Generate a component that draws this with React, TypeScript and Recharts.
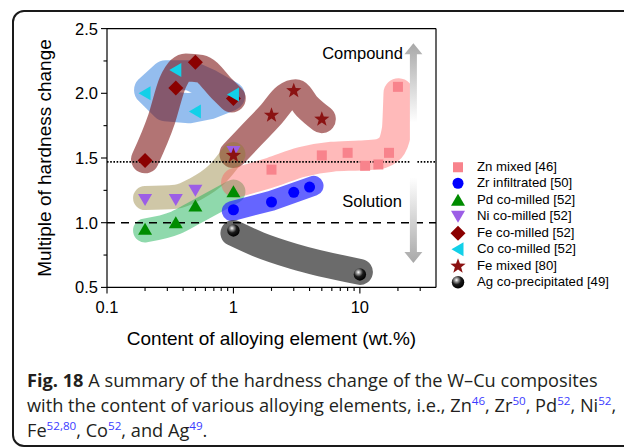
import React from 'react';
import { ComposedChart, Scatter, Line, XAxis, YAxis, ReferenceLine, Legend } from 'recharts';

// ---------------- data ----------------
const ZN_X = [2, 5, 8, 11, 14, 17, 20];
const ZN_Y = [1.41, 1.52, 1.54, 1.44, 1.45, 1.54, 2.05];
const ZR_X = [1, 2, 3, 4];
const ZR_Y = [1.1, 1.16, 1.235, 1.275];
const PD_X = [0.2, 0.35, 0.5, 1];
const PD_Y = [0.95, 1.0, 1.13, 1.24];
const NI_X = [0.2, 0.35, 0.5, 1];
const NI_Y = [1.18, 1.18, 1.25, 1.55];
const FEC_X = [0.2, 0.35, 0.5, 1];
const FEC_Y = [1.48, 2.04, 2.24, 1.96];
const CO_X = [0.2, 0.35, 0.5, 1];
const CO_Y = [2.0, 2.18, 1.86, 1.99];
const FEM_X = [1, 2, 3, 5];
const FEM_Y = [1.52, 1.83, 2.02, 1.8];
const AG_X = [1, 10];
const AG_Y = [0.94, 0.6];

// shaded guide bands (centre lines)
const CO_BAND_X = [0.215, 0.29, 0.448, 0.645, 0.94, 0.645, 0.448, 0.29];
const CO_BAND_Y = [2.025, 2.14, 2.14, 2.07, 1.979, 1.915, 1.885, 1.9];
const FEC_BAND_X = [0.2, 0.27, 0.33, 0.42, 0.55, 0.82, 0.97];
const FEC_BAND_Y = [1.49, 1.8, 2.08, 2.2, 2.19, 2.03, 1.96];
const FEM_BAND_X = [1.0, 1.4, 2, 2.6, 3.1, 3.8, 5];
const FEM_BAND_Y = [1.53, 1.68, 1.84, 1.97, 2.0, 1.9, 1.8];
const NI_BAND_X = [0.2, 0.35, 0.5, 0.75, 1.0];
const NI_BAND_Y = [1.19, 1.2, 1.26, 1.38, 1.53];
const PD_BAND_X = [0.2, 0.35, 0.5, 1.0];
const PD_BAND_Y = [0.94, 1.0, 1.08, 1.24];
const ZN_BAND_X = [1.05, 2, 3.5, 6, 10, 14, 17.5, 19.6, 20.2];
const ZN_BAND_Y = [1.31, 1.39, 1.47, 1.51, 1.52, 1.53, 1.58, 1.72, 2.0];
const ZR_BAND_X = [0.97, 2, 4.3];
const ZR_BAND_Y = [1.09, 1.17, 1.285];
const AG_BAND_X = [1.0, 1.6, 3, 10];
const AG_BAND_Y = [0.92, 0.83, 0.74, 0.62];

const X_MAJOR = [0.1, 1, 10];
const X_MAJOR_LABELS = ['0.1', '1', '10'];
const X_MINOR = [0.2, 0.3, 0.4, 0.5, 0.6, 0.7, 0.8, 0.9, 2, 3, 4, 5, 6, 7, 8, 9, 20, 30];
const Y_MAJOR = [0.5, 1.0, 1.5, 2.0, 2.5];
const Y_MAJOR_LABELS = ['0.5', '1.0', '1.5', '2.0', '2.5'];
const Y_MINOR = [0.75, 1.25, 1.75, 2.25];

const SOLUTION_LEVEL = 1.0;
const COMPOUND_LEVEL = 1.47;
const ARROW_X = 26.5;
const ARROW_Y = [2.386, 0.689];

const LEGEND_NAMES = [
  'Zn mixed [46]',
  'Zr infiltrated [50]',
  'Pd co-milled [52]',
  'Ni co-milled [52]',
  'Fe co-milled [52]',
  'Co co-milled [52]',
  'Fe mixed [80]',
  'Ag co-precipitated [49]',
];

const pts = (xs: number[], ys: number[]) => xs.map((x, i) => ({ x, y: ys[i] }));

const SERIES = [
  { name: LEGEND_NAMES[0], data: pts(ZN_X, ZN_Y), kind: 'square', color: '#f8838c' },
  { name: LEGEND_NAMES[1], data: pts(ZR_X, ZR_Y), kind: 'circle', color: '#0000ff' },
  { name: LEGEND_NAMES[2], data: pts(PD_X, PD_Y), kind: 'up', color: '#008c00' },
  { name: LEGEND_NAMES[3], data: pts(NI_X, NI_Y), kind: 'down', color: '#9c5ee6' },
  { name: LEGEND_NAMES[4], data: pts(FEC_X, FEC_Y), kind: 'diamond', color: '#8b0000' },
  { name: LEGEND_NAMES[5], data: pts(CO_X, CO_Y), kind: 'left', color: '#12d0e8' },
  { name: LEGEND_NAMES[6], data: pts(FEM_X, FEM_Y), kind: 'star', color: '#8b1212' },
  { name: LEGEND_NAMES[7], data: pts(AG_X, AG_Y), kind: 'sphere', color: '#000000' },
];

const BANDS = [
  { id: 'co', data: pts(CO_BAND_X, CO_BAND_Y), color: '#3d86e0', opacity: 0.55, width: 30, type: 'linearClosed' },
  { id: 'fec', data: pts(FEC_BAND_X, FEC_BAND_Y), color: '#7a1010', opacity: 0.58, width: 28, type: 'monotone' },
  { id: 'fem', data: pts(FEM_BAND_X, FEM_BAND_Y), color: '#7a1010', opacity: 0.58, width: 28, type: 'monotone' },
  { id: 'ni', data: pts(NI_BAND_X, NI_BAND_Y), color: '#8c7a2e', opacity: 0.42, width: 24, type: 'monotone' },
  { id: 'pd', data: pts(PD_BAND_X, PD_BAND_Y), color: '#1fb35a', opacity: 0.5, width: 24, type: 'monotone' },
  { id: 'zn', data: pts(ZN_BAND_X, ZN_BAND_Y), color: '#ff5a5a', opacity: 0.42, width: 30, type: 'monotone' },
  { id: 'zr', data: pts(ZR_BAND_X, ZR_BAND_Y), color: '#2a2aff', opacity: 0.72, width: 20, type: 'linear' },
  { id: 'ag', data: pts(AG_BAND_X, AG_BAND_Y), color: '#3a3a3a', opacity: 0.75, width: 26, type: 'monotone' },
];

const FONT = "Arial, 'Liberation Sans', Helvetica, sans-serif";

// ---------------- markers ----------------
function Marker({ kind, color, cx, cy }: { kind: string; color: string; cx: number; cy: number }) {
  if (cx == null || cy == null) return null;
  switch (kind) {
    case 'square':
      return <rect x={cx - 5} y={cy - 5} width={10} height={10} fill={color} />;
    case 'circle':
      return <circle cx={cx} cy={cy} r={5.5} fill={color} />;
    case 'up':
      return <polygon points={`${cx},${cy - 6.5} ${cx + 7},${cy + 5.5} ${cx - 7},${cy + 5.5}`} fill={color} />;
    case 'down':
      return <polygon points={`${cx - 7},${cy - 5.5} ${cx + 7},${cy - 5.5} ${cx},${cy + 6.5}`} fill={color} />;
    case 'left':
      return <polygon points={`${cx - 6.5},${cy} ${cx + 5.5},${cy - 7} ${cx + 5.5},${cy + 7}`} fill={color} />;
    case 'diamond':
      return <polygon points={`${cx},${cy - 7.5} ${cx + 7.5},${cy} ${cx},${cy + 7.5} ${cx - 7.5},${cy}`} fill={color} />;
    case 'star': {
      const p: string[] = [];
      for (let i = 0; i < 10; i++) {
        const r = i % 2 === 0 ? 8 : 3.3;
        const a = -Math.PI / 2 + (i * Math.PI) / 5;
        p.push(`${cx + r * Math.cos(a)},${cy + r * Math.sin(a)}`);
      }
      return <polygon points={p.join(' ')} fill={color} />;
    }
    case 'sphere':
      return <circle cx={cx} cy={cy} r={6.2} fill="url(#agSphere)" />;
    default:
      return null;
  }
}

// ---------------- axes ticks ----------------
function XTick(props: any) {
  const { x, y, payload } = props;
  const idx = X_MAJOR.indexOf(payload.value);
  const major = idx >= 0;
  return (
    <g>
      <line x1={x} x2={x} y1={y} y2={y + (major ? 6 : 3.5)} stroke="#000" strokeWidth={1.1} />
      {major && (
        <text x={x} y={y + 26} textAnchor="middle" fontSize={16.5} fontFamily={FONT} fill="#000">
          {X_MAJOR_LABELS[idx]}
        </text>
      )}
    </g>
  );
}

function YTick(props: any) {
  const { x, y, payload } = props;
  const idx = Y_MAJOR.indexOf(payload.value);
  const major = idx >= 0;
  return (
    <g>
      <line x1={x} x2={x - (major ? 6 : 3.5)} y1={y} y2={y} stroke="#000" strokeWidth={1.1} />
      {major && (
        <text x={x - 9} y={y + 6} textAnchor="end" fontSize={16.5} fontFamily={FONT} fill="#000">
          {Y_MAJOR_LABELS[idx]}
        </text>
      )}
    </g>
  );
}

function XTitle(props: any) {
  const vb = props.viewBox || { x: 107, y: 287.4, width: 329, height: 30 };
  return (
    <text x={vb.x + vb.width / 2} y={vb.y + 57.4} textAnchor="middle" fontSize={19} fontFamily={FONT} fill="#000">
      Content of alloying element (wt.%)
    </text>
  );
}

function YTitle(props: any) {
  const vb = props.viewBox || { x: 47, y: 28.6, width: 60, height: 258.8 };
  const cx = vb.x - 3;
  const cy = vb.y + vb.height / 2;
  return (
    <text
      x={cx}
      y={cy}
      transform={`rotate(-90, ${cx}, ${cy})`}
      textAnchor="middle"
      dominantBaseline="central"
      fontSize={19}
      fontFamily={FONT}
      fill="#000"
    >
      Multiple of hardness change
    </text>
  );
}

function ArrowShape(props: any) {
  const { x1, y1, y2 } = props;
  const top = Math.min(y1, y2);
  const bot = Math.max(y1, y2);
  const hw = 9;
  const sw = 3.5;
  const hh = 11;
  const d = `M${x1},${top} L${x1 + hw},${top + hh} L${x1 + sw},${top + hh} L${x1 + sw},${bot - hh} L${x1 + hw},${bot - hh} L${x1},${bot} L${x1 - hw},${bot - hh} L${x1 - sw},${bot - hh} L${x1 - sw},${top + hh} L${x1 - hw},${top + hh} Z`;
  return (
    <g>
      <path d={d} fill="url(#arrowGrad)" />
      <text x={x1 - 10.5} y={top + 16} textAnchor="end" fontSize={16.5} fontFamily={FONT} fill="#000">
        Compound
      </text>
      <text x={x1 - 11.5} y={top + 164} textAnchor="end" fontSize={16.5} fontFamily={FONT} fill="#000">
        Solution
      </text>
    </g>
  );
}

function LegendContent() {
  return (
    <div style={{ fontFamily: FONT, fontSize: 13.2, color: '#000' }}>
      {SERIES.map((s) => (
        <div key={s.name} style={{ display: 'flex', alignItems: 'center', height: 16.5, whiteSpace: 'nowrap' }}>
          <svg width={16} height={16.5} style={{ display: 'block', flex: 'none' }}>
            <Marker kind={s.kind} color={s.color} cx={8} cy={8.25} />
          </svg>
          <span style={{ marginLeft: 11, lineHeight: '16.5px' }}>{s.name}</span>
        </div>
      ))}
    </div>
  );
}

const supStyle: React.CSSProperties = {
  color: '#3b3bff',
  fontSize: '0.64em',
  position: 'relative',
  top: '-0.6em',
  lineHeight: 0,
};

export default function App() {
  return (
    <div style={{ position: 'absolute', left: 0, top: 0, width: 624, height: 448, overflow: 'hidden', background: '#fff' }}>
      <svg width={0} height={0} style={{ position: 'absolute' }}>
        <defs>
          <radialGradient id="agSphere" cx="38%" cy="32%" r="68%">
            <stop offset="0" stopColor="#ffffff" />
            <stop offset="0.22" stopColor="#9a9a9a" />
            <stop offset="0.55" stopColor="#1a1a1a" />
            <stop offset="1" stopColor="#000000" />
          </radialGradient>
          <linearGradient id="arrowGrad" x1="0" y1="0" x2="0" y2="1">
            <stop offset="0" stopColor="#a8a8a8" />
            <stop offset="0.36" stopColor="#ffffff" />
            <stop offset="0.61" stopColor="#ffffff" />
            <stop offset="1" stopColor="#a8a8a8" />
          </linearGradient>
        </defs>
      </svg>

      <div
        style={{
          position: 'absolute',
          left: 12,
          top: 10,
          width: 700,
          height: 437,
          boxSizing: 'border-box',
          border: '2px solid #1a1a1a',
          borderRadius: 12,
        }}
      />

      <div style={{ position: 'absolute', left: 0, top: 0 }}>
        <ComposedChart width={624} height={360} margin={{ top: 28.6, right: 188, bottom: 42.6, left: 47 }}>
          <XAxis
            type="number"
            dataKey="x"
            scale="log"
            domain={[0.1, 40]}
            ticks={[...X_MAJOR, ...X_MINOR]}
            interval={0}
            tickLine={false}
            tickSize={0}
            tickMargin={0}
            tick={(p: any) => <XTick {...p} />}
            axisLine={{ stroke: '#000', strokeWidth: 1.2 }}
            height={30}
            label={{ content: (p: any) => <XTitle {...p} /> }}
          />
          <YAxis
            type="number"
            dataKey="y"
            domain={[0.5, 2.5]}
            ticks={[...Y_MAJOR, ...Y_MINOR]}
            interval={0}
            tickLine={false}
            tickSize={0}
            tickMargin={0}
            tick={(p: any) => <YTick {...p} />}
            axisLine={{ stroke: '#000', strokeWidth: 1.2 }}
            width={60}
            label={{ content: (p: any) => <YTitle {...p} /> }}
          />
          <ReferenceLine y={2.5} stroke="#000" strokeWidth={1.2} />
          <ReferenceLine x={40} stroke="#000" strokeWidth={1.2} />

          {SERIES.map((s) => (
            <Scatter
              key={s.name}
              name={s.name}
              data={s.data}
              fill={s.color}
              isAnimationActive={false}
              shape={(p: any) => <Marker kind={s.kind} color={s.color} cx={p.cx} cy={p.cy} />}
            />
          ))}

          {BANDS.map((b) => (
            <Line
              key={b.id}
              data={b.data}
              dataKey="y"
              type={b.type as any}
              stroke={b.color}
              strokeOpacity={b.opacity}
              strokeWidth={b.width}
              strokeLinecap="round"
              strokeLinejoin="round"
              dot={false}
              activeDot={false}
              legendType="none"
              isAnimationActive={false}
            />
          ))}

          <ReferenceLine y={SOLUTION_LEVEL} stroke="#000" strokeWidth={1.5} strokeDasharray="8 6" />
          <ReferenceLine y={COMPOUND_LEVEL} stroke="#000" strokeWidth={1.6} strokeDasharray="1.6 1.6" />
          <ReferenceLine
            segment={[
              { x: ARROW_X, y: ARROW_Y[0] },
              { x: ARROW_X, y: ARROW_Y[1] },
            ]}
            ifOverflow="visible"
            shape={(p: any) => <ArrowShape {...p} />}
          />

          <Legend
            layout="vertical"
            align="center"
            verticalAlign="middle"
            content={() => <LegendContent />}
            wrapperStyle={{ left: 450, top: 158.5, width: 170 }}
          />
        </ComposedChart>
      </div>

      <div
        style={{
          position: 'absolute',
          left: 27,
          top: 368,
          fontFamily: "'Open Sans', 'Noto Sans', sans-serif",
          fontSize: 18.2,
          lineHeight: '25px',
          color: '#231f20',
          whiteSpace: 'nowrap',
        }}
      >
        <div>
          <b>Fig. 18</b> A summary of the hardness change of the W–Cu composites
        </div>
        <div>
          with the content of various alloying elements, i.e., Zn<span style={supStyle}>46</span>, Zr
          <span style={supStyle}>50</span>, Pd<span style={supStyle}>52</span>, Ni<span style={supStyle}>52</span>,
        </div>
        <div>
          Fe<span style={supStyle}>52,80</span>, Co<span style={supStyle}>52</span>, and Ag<span style={supStyle}>49</span>.
        </div>
      </div>
    </div>
  );
}
